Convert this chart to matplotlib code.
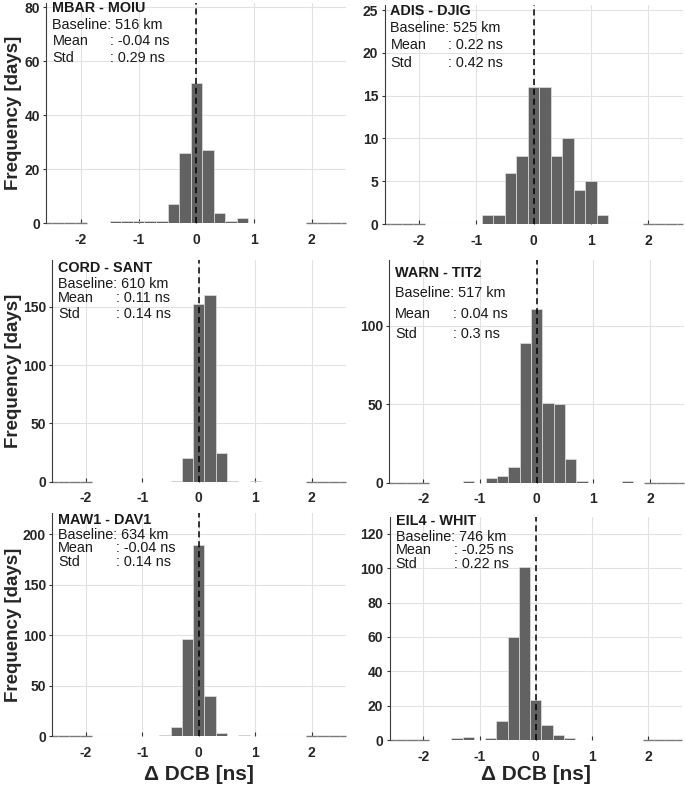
import numpy as np
import matplotlib
matplotlib.use('Agg')
import matplotlib.pyplot as plt

plt.rcParams['font.family'] = ['Liberation Sans', 'DejaVu Sans']
plt.rcParams['axes.unicode_minus'] = False

# bin centres of the DCB difference histograms [ns], bin width 0.2
bin_centers = [-2.6, -2.4, -2.2, -2.0, -1.8, -1.6, -1.4, -1.2, -1.0, -0.8, -0.6, -0.4, -0.2,
               0.0, 0.2, 0.4, 0.6, 0.8, 1.0, 1.2, 1.4, 1.6, 1.8, 2.0, 2.2, 2.4, 2.6]
N = None

# counts per bin (None = no bin drawn, 0 = empty bin)
counts_mbar = [0, 0, 0, 0, N, N, 1, 1, 1, 1, 1, 7, 26, 52, 27, 4, 1, 2, N, N, N, N, N, 0, 0, 0, 0]
counts_adis = [0, 0, 0, 0, N, N, N, N, N, 1, 1, 6, 8, 16, 16, 8, 10, 4, 5, 1, N, N, N, 0, 0, 0, 0]
counts_cord = [0, 0, 0, 0, N, N, N, N, N, N, N, 1, 20, 152, 160, 25, 1, N, 1, N, N, N, N, 0, 0, 0, 0]
counts_warn = [0, 0, 0, 0, N, N, N, 1, N, 3, 4, 10, 89, 111, 51, 50, 15, 1, N, N, N, 1, N, 0, 0, 0, 0]
counts_maw1 = [0, 0, 0, 0, N, N, N, N, N, N, 1, 9, 96, 190, 40, 3, N, 1, N, N, N, N, N, 0, 0, 0, 0]
counts_eil4 = [0, 0, 0, 0, N, N, 1, 2, N, 1, 11, 60, 101, 23, 9, 3, 1, N, N, N, N, N, N, 0, 0, 0, 0]

pairs = ['MBAR - MOIU', 'ADIS - DJIG', 'CORD - SANT', 'WARN - TIT2', 'MAW1 - DAV1', 'EIL4 - WHIT']
baselines = [516, 525, 610, 517, 634, 746]
means = ['-0.04', '0.22', '0.11', '0.04', '-0.04', '-0.25']
stds = ['0.29', '0.42', '0.14', '0.3', '0.14', '0.22']
yticks = [[0, 20, 40, 60, 80], [0, 5, 10, 15, 20, 25], [0, 50, 100, 150],
          [0, 50, 100], [0, 50, 100, 150, 200], [0, 20, 40, 60, 80, 100, 120]]
ytops = [81.6, 25.6, 190, 142, 221, 130]
all_counts = [counts_mbar, counts_adis, counts_cord, counts_warn, counts_maw1, counts_eil4]

# axes boxes in pixels: left, right, top, bottom
W, H = 685, 787
boxes = [(46.4, 346.3, 3.0, 223.3), (384.5, 682.7, 4.9, 224.0),
         (52.2, 345.5, 260.0, 481.7), (389.3, 684.0, 260.0, 482.7),
         (52.2, 345.5, 513.3, 736.0), (389.6, 682.0, 516.7, 740.0)]
# vertical offsets (px from axes top) of the four text lines
text_offsets = [(5.5, 22, 38, 54.5), (6, 22.7, 40.3, 57.7), (8.3, 24, 38.3, 54.3),
                (13.3, 33.3, 54.3, 74.3), (6.7, 21.7, 35, 48.4), (4.3, 20, 33.8, 47.8)]

fig = plt.figure(figsize=(W / 100, H / 100), dpi=100)
fs = 10.4

for i, counts in enumerate(all_counts):
    l, r, t, b = boxes[i]
    wpx, hpx = r - l, b - t
    ax = fig.add_axes([l / W, 1 - b / H, wpx / W, hpx / H])

    xb = [c for c, n in zip(bin_centers, counts) if n]
    hb = [n for n in counts if n]
    ax.bar(xb, hb, width=0.2, color='#626262', edgecolor='#e6e6e6', linewidth=0.45, zorder=2)

    xz = np.array([c for c, n in zip(bin_centers, counts) if n == 0])
    ax.hlines(np.zeros(len(xz)), np.clip(xz - 0.1, -2.6, 2.6), np.clip(xz + 0.1, -2.6, 2.6),
              color='#7a7a7a', lw=1.0, zorder=2, clip_on=False)

    ax.axvline(0, color='black', ls=(0, (4, 2.5)), lw=1.1, zorder=3)

    ax.set_xlim(-2.6, 2.6)
    ax.set_ylim(0, ytops[i])
    ax.set_xticks([-2, -1, 0, 1, 2])
    ax.set_yticks(yticks[i])
    ax.grid(True, color='#e2e2e2', lw=0.8)
    ax.set_axisbelow(True)
    for s in ['top', 'right', 'bottom']:
        ax.spines[s].set_visible(False)
    ax.spines['left'].set_color('#3c3c3c')
    ax.spines['left'].set_linewidth(0.8)
    ax.tick_params(axis='x', direction='in', length=3, color='#333333', labelsize=10,
                   labelcolor='#262626', pad=7)
    ax.tick_params(axis='y', direction='out', length=2.5, color='#333333', labelsize=10,
                   labelcolor='#262626', pad=2)
    for lbl in ax.get_xticklabels() + ax.get_yticklabels():
        lbl.set_fontweight('bold')

    # annotation block
    x0 = 6 / wpx
    xc = 64 / wpx
    o = text_offsets[i]
    ax.text(x0, 1 - o[0] / hpx, pairs[i], transform=ax.transAxes, fontsize=fs,
            fontweight='bold', va='center', ha='left', color='#1a1a1a')
    ax.text(x0, 1 - o[1] / hpx, f'Baseline: {baselines[i]} km', transform=ax.transAxes,
            fontsize=fs, va='center', ha='left', color='#1a1a1a')
    ax.text(x0, 1 - o[2] / hpx, 'Mean', transform=ax.transAxes, fontsize=fs,
            va='center', ha='left', color='#1a1a1a')
    ax.text(xc, 1 - o[2] / hpx, f': {means[i]} ns', transform=ax.transAxes, fontsize=fs,
            va='center', ha='left', color='#1a1a1a')
    ax.text(x0, 1 - o[3] / hpx, 'Std', transform=ax.transAxes, fontsize=fs,
            va='center', ha='left', color='#1a1a1a')
    ax.text(xc, 1 - o[3] / hpx, f': {stds[i]} ns', transform=ax.transAxes, fontsize=fs,
            va='center', ha='left', color='#1a1a1a')

    if i % 2 == 0:
        ax.set_ylabel('Frequency [days]', fontsize=13.5, fontweight='bold', color='#262626',
                      va='center')
        ax.yaxis.set_label_coords((14 - l) / wpx, 0.5)
    if i >= 4:
        ax.set_xlabel('\u0394 DCB [ns]', fontsize=15, fontweight='bold', color='#262626',
                      va='center')
        ax.xaxis.set_label_coords(0.5, 1 - (774 - t) / hpx)

fig.savefig('out.png', dpi=100)
